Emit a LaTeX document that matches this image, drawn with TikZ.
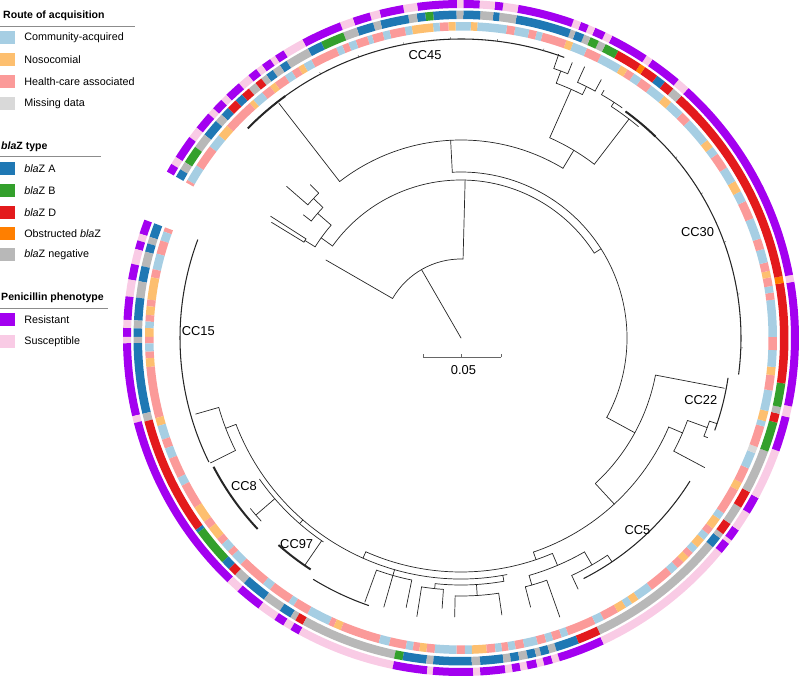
\documentclass[tikz,border=0pt]{standalone}
\usepackage{fontspec}
\setmainfont{Liberation Sans}
\usetikzlibrary{positioning}

% legend and ring colours
\definecolor{comm}{HTML}{A6CEE3}
\definecolor{noso}{HTML}{FDBF6F}
\definecolor{hca}{HTML}{FB9A99}
\definecolor{miss}{HTML}{D9D9D9}
\definecolor{blaA}{HTML}{1F78B4}
\definecolor{blaB}{HTML}{33A02C}
\definecolor{blaD}{HTML}{E31A1C}
\definecolor{blaO}{HTML}{FF7F00}
\definecolor{blaN}{HTML}{B8B8B8}
\definecolor{resist}{HTML}{A300F0}
\definecolor{suscep}{HTML}{F9CBE5}

% ring segment: start/end angle, radii, colour
\newcommand{\ringseg}[5]{%
  \fill[#5] (#1:#3) arc[start angle=#1, end angle=#2, radius=#3]
    -- (#2:#4) arc[start angle=#2, end angle=#1, radius=#4] -- cycle;}
% tree pieces: radial line and arc
\newcommand{\tline}[3]{\draw[branch] (#1:#2) -- (#1:#3);}
\newcommand{\tarc}[3]{\draw[branch] (#2:#1) arc[start angle=#2, end angle=#3, radius=#1];}
\newcommand{\tcomb}[4][comb]{\draw[#1] (#3:#2) arc[start angle=#3, end angle=#4, radius=#2];}

\begin{document}
\begin{tikzpicture}[
    x=0.3mm, y=0.3mm,
    branch/.style={line width=0.6pt, black!85, line cap=round},
    tip/.style={line width=0.4pt, black!70},
    comb/.style={line width=0.9pt, black!85},
    combthick/.style={line width=1.7pt, black!85},
    swatch/.style={minimum width=4.5mm, minimum height=3.9mm, inner sep=0pt, anchor=west},
    legtitle/.style={font=\fontsize{9}{10}\selectfont\bfseries, anchor=west, inner sep=0pt},
    legtext/.style={font=\fontsize{9.2}{10}\selectfont, anchor=west, inner sep=0pt},
    cclabel/.style={font=\fontsize{11}{12}\selectfont, inner sep=0pt}
]
\useasboundingbox (-461,-339) rectangle (339,338);

% ---- rings ----
% route of acquisition (inner)
\foreach \a/\b/\c in {159.5/160.3/hca,160.3/162/comm,162/164.5/hca,164.5/167.4/comm,167.4/168.9/hca,168.9/173/noso,173/174.2/hca,174.2/175.8/noso,175.8/177/hca,177/178.2/comm,178.2/179.8/noso,179.8/181/hca,181/182.5/comm,182.5/183.7/hca,183.7/185.3/noso,185.3/194.7/hca,194.7/196.2/noso,196.2/198.8/comm,198.8/200.5/hca,200.5/202.5/comm,202.5/206.3/hca,206.3/207.9/comm,207.9/212.5/hca,212.5/215.6/noso,215.6/217.1/hca,217.1/219.5/noso,219.5/220.8/hca,220.8/222.5/comm,222.5/223.6/hca,223.6/225.8/comm,225.8/231.2/hca,231.2/232.8/comm,232.8/236.9/hca,236.9/238/comm,238/240.9/hca,240.9/245.2/comm,245.2/246.2/hca,246.2/247.6/noso,247.6/254.9/hca,254.9/256.8/comm,256.8/259.9/hca,259.9/261.2/comm,261.2/262.4/hca,262.4/263.7/noso,263.7/265.2/hca,265.2/269.2/comm,269.2/270.7/hca,270.7/272/comm,272/274.7/noso,274.7/276.3/hca,276.3/277.5/comm,277.5/278.7/hca,278.7/280/comm,280/281.6/hca,281.6/284.1/comm,284.1/285.7/hca,285.7/287/comm,287/288.6/hca,288.6/289.9/comm,289.9/295.2/hca,295.2/296.9/comm,296.9/299.8/hca,299.8/301.5/noso,301.5/302.8/comm,302.8/304.2/noso,304.2/307.2/comm,307.2/311.8/hca,311.8/313.3/comm,313.3/314.8/hca,314.8/316.1/noso,316.1/317.2/hca,317.2/318.5/comm,318.5/320.3/noso,320.3/321.6/comm,321.6/322.9/hca,322.9/325/noso,325/326.3/comm,326.3/331.2/hca,331.2/332.7/noso,332.7/335.6/hca,335.6/338.6/comm,338.6/339.8/miss,339.8/343.7/hca,343.7/344.7/comm,344.7/346.6/noso,346.6/350.4/comm,350.4/353.2/hca,353.2/354.7/noso,354.7/357.8/comm,357.8/360.2/hca,360.2/367/comm,367/368.3/hca,368.3/369.5/comm,369.5/371.1/hca,371.1/372.3/noso,372.3/373.9/hca,373.9/376.4/comm,376.4/378.4/hca,378.4/382.3/comm,382.3/385.7/hca,385.7/387.7/comm,387.7/389.8/noso,389.8/392.7/comm,392.7/395.7/hca,395.7/397.2/comm,397.2/398.8/noso,398.8/403.6/comm,403.6/405.5/hca,405.5/408.3/comm,408.3/410/noso,410/413/comm,413/415.2/hca,415.2/416.8/comm,416.8/418.2/hca,418.2/419.6/noso,419.6/423.7/comm,423.7/426.5/hca,426.5/429.2/comm,429.2/430.5/noso,430.5/435/hca,435/436.1/comm,436.1/437.5/hca,437.5/440.1/comm,440.1/441.6/hca,441.6/447/comm,447/448.2/noso,448.2/451/comm,451/452.3/noso,452.3/453.9/hca,453.9/455.1/comm,455.1/459/noso,459/460.3/comm,460.3/463.1/hca,463.1/464.4/comm,464.4/466.4/hca,466.4/467.3/comm,467.3/469.5/hca,469.5/470.9/comm,470.9/472.1/hca,472.1/473.3/comm,473.3/478.3/hca,478.3/479.9/comm,479.9/481/noso,481/482.4/hca,482.4/483.9/comm,483.9/486.1/hca,486.1/487.2/noso,487.2/489/hca,489/491.1/comm,491.1/492/noso,492/497.8/hca,497.8/500.1/noso,500.1/502.7/comm,502.7/506.9/hca,506.9/510/comm,510/510.5/hca}
  {\ringseg{\a}{\b}{307.5}{316}{\c}}

% blaZ type (middle)
\foreach \a/\b/\c in {159.5/162/blaA,162/163.2/blaN,163.2/164.7/blaA,164.7/167.3/blaN,167.3/170/blaA,170/172.9/blaN,172.9/176.9/blaA,176.9/178.3/blaN,178.3/179.8/blaA,179.8/180.9/blaN,180.9/193.4/blaA,193.4/194.8/blaN,194.8/215.9/blaD,215.9/216.5/blaA,216.5/223.2/blaB,223.2/224.9/blaA,224.9/226.4/blaD,226.4/228.5/blaN,228.5/233/blaA,233/236.4/blaN,236.4/238.6/blaA,238.6/239.6/blaN,239.6/241.1/blaD,241.1/258.2/blaN,258.2/259.7/blaB,259.7/263.9/blaA,263.9/265.1/blaN,265.1/271.9/blaA,271.9/273.4/blaN,273.4/277.5/blaA,277.5/278.8/blaN,278.8/280.3/blaA,280.3/281.8/blaN,281.8/283.3/blaA,283.3/284.2/blaN,284.2/285.7/blaA,285.7/287/blaN,287/291.1/blaA,291.1/295.2/blaD,295.2/320.3/blaN,320.3/322.3/blaA,322.3/323.2/blaN,323.2/325.4/blaD,325.4/328.8/blaN,328.8/331.9/blaD,331.9/339.7/blaN,339.7/345/blaB,345/346.6/blaD,346.6/347.8/blaN,347.8/352/blaB,352/369.7/blaD,369.7/370.9/blaO,370.9/407.7/blaD,407.7/409.6/blaN,409.6/411.5/blaD,411.5/413.2/blaA,413.2/415.8/blaD,415.8/416.8/blaO,416.8/421.3/blaD,421.3/423.8/blaB,423.8/425.1/blaN,425.1/426.7/blaB,426.7/427.9/blaN,427.9/429.5/blaA,429.5/430.4/blaN,430.4/440.2/blaA,440.2/443.2/blaN,443.2/444.3/blaA,444.3/446.6/blaN,446.6/449.6/blaA,449.6/450.8/blaN,450.8/454.9/blaA,454.9/456.3/blaB,456.3/457.8/blaA,457.8/459.3/blaN,459.3/464.3/blaA,464.3/465.6/blaN,465.6/468.6/blaA,468.6/471.1/blaN,471.1/475.3/blaB,475.3/477.9/blaA,477.9/482.2/blaN,482.2/483.6/blaA,483.6/485.1/blaN,485.1/486.5/blaA,486.5/487.6/blaN,487.6/488.9/blaD,488.9/490.4/blaN,490.4/492/blaD,492/493.5/blaA,493.5/495.4/blaD,495.4/497/blaA,497/498.5/blaN,498.5/501.6/blaA,501.6/504.3/blaN,504.3/507.5/blaB,507.5/509/blaN,509/510.5/blaA}
  {\ringseg{\a}{\b}{319}{327.5}{\c}}

% penicillin phenotype (outer)
\foreach \a/\b/\c in {159.5/162/resist,162/163.2/suscep,163.2/164.7/resist,164.7/167.3/suscep,167.3/170/resist,170/172.9/suscep,172.9/176.9/resist,176.9/178.3/suscep,178.3/179.8/resist,179.8/180.9/suscep,180.9/193.4/resist,193.4/194.6/suscep,194.6/226.3/resist,226.3/228.6/suscep,228.6/233.2/resist,233.2/236.5/suscep,236.5/238.3/resist,238.3/239.7/suscep,239.7/241.3/resist,241.3/258.3/suscep,258.3/264.2/resist,264.2/265.2/suscep,265.2/272.1/resist,272.1/273.3/suscep,273.3/277.6/resist,277.6/278.8/suscep,278.8/280.2/resist,280.2/281.4/suscep,281.4/283.1/resist,283.1/284.3/suscep,284.3/285.8/resist,285.8/287/suscep,287/295/resist,295/320.5/suscep,320.5/322.5/resist,322.5/323.2/suscep,323.2/325.3/resist,325.3/328.7/suscep,328.7/331.7/resist,331.7/340.4/suscep,340.4/346.4/resist,346.4/348.3/suscep,348.3/369.6/resist,369.6/370.8/suscep,370.8/407.7/resist,407.7/409.9/suscep,409.9/415.5/resist,415.5/416.7/suscep,416.7/423.4/resist,423.4/424.7/suscep,424.7/426.6/resist,426.6/427.8/suscep,427.8/429.2/resist,429.2/430.5/suscep,430.5/440.2/resist,440.2/442.8/suscep,442.8/444.2/resist,444.2/446.8/suscep,446.8/449.6/resist,449.6/450.7/suscep,450.7/457.5/resist,457.5/459.9/suscep,459.9/464/resist,464/465.7/suscep,465.7/468.7/resist,468.7/471/suscep,471/478/resist,478/481.7/suscep,481.7/483.4/resist,483.4/484.4/suscep,484.4/486.1/resist,486.1/487.3/suscep,487.3/489/resist,489/491.1/suscep,491.1/494/resist,494/495.2/suscep,495.2/497.2/resist,497.2/498.4/suscep,498.4/501.5/resist,501.5/503.5/suscep,503.5/507.6/resist,507.6/509/suscep,509/510.5/resist}
  {\ringseg{\a}{\b}{330}{338}{\c}}

% ---- tree ----
% root and backbone
\tline{120}{0}{79}
\tarc{79}{88.5}{150}
\tline{150}{79}{156}
\tline{88.5}{79}{158}
\tarc{158}{32.5}{144.4}
% small clade, top left
\tline{144.4}{158}{172}
\tarc{172}{139}{148}
\tline{148}{172}{184}
\tarc{184}{147.4}{148.6}
\tline{147.4}{184}{226}
\tline{148.6}{184}{222}
\tline{139}{172}{190}
\tarc{190}{136.6}{142}
\tline{142}{190}{200}
\tline{136.6}{190}{203}
\tarc{203}{134.5}{139}
\tline{134.5}{203}{215}
\tline{139}{203}{231}
% CC45 and CC30
\tline{32.5}{158}{166}
\tarc{166}{-28.6}{93}
\tline{93}{166}{198}
\tarc{198}{59}{127.8}
\tline{127.8}{198}{297}
\tcomb{299}{69.8}{135}
\tcomb[combthick]{299}{126}{135.5}
\foreach \ang in {74,83,92,101,110,118} {\draw[tip] (\ang:298.5) -- (\ang:301);}
\tline{59}{198}{219}
\tarc{219}{52.5}{66.1}
\tline{66.1}{219}{272}
\tarc{272}{63.5}{69.5}
\tline{69.5}{272}{285}
\tarc{285}{68}{71}
\tline{68}{285}{297}
\tline{71}{285}{300}
\tline{63.5}{272}{281}
\tarc{281}{61.5}{65.5}
\tline{61.5}{281}{294}
\tline{65.5}{281}{298}
\tline{52.5}{219}{276}
\tarc{276}{50}{57}
\tline{57}{276}{281}
\tarc{281}{55}{60}
\tline{60}{281}{286}
\tcomb{280}{-7.5}{54}
\tcomb[combthick]{280}{46}{54}
\foreach \ang in {-2,9,20,31,40} {\draw[tip] (\ang:279.5) -- (\ang:282);}
% CC22 and neighbours
\tline{-28.6}{166}{198}
\tarc{198}{-47.3}{-10.8}
\tline{-10.8}{198}{268}
\tcomb{270}{-20}{-8.5}
\tline{-47.3}{198}{226}
\tarc{226}{-71.3}{-23.2}
\tline{-23.2}{226}{241}
\tarc{241}{-28}{-20}
\tline{-20}{241}{262}
\tarc{262}{-22}{-18.5}
\tline{-22}{262}{266}
\tline{-18.5}{262}{270}
\tline{-28}{241}{276}
% CC5 and bottom clades
\tline{288.7}{226}{234}
\tarc{234}{246}{293}
\tline{293}{234}{247}
\tarc{247}{286}{300}
\tline{286}{247}{257}
\tarc{257}{284.5}{289.5}
\tline{284.5}{257}{278}
\tline{289.5}{257}{296}
\tline{300}{247}{262}
\tarc{262}{295}{304}
\tline{295}{262}{277}
\tline{304}{262}{270}
\tcomb{270}{297}{328}
\tline{246}{234}{241}
\tarc{241}{201}{281}
\tline{280}{241}{247}
\tarc{247}{264}{280}
\tline{273.6}{247}{258}
\tarc{258}{268.7}{278.4}
\tline{268.7}{258}{279}
\tline{278.4}{258}{280}
\tline{264}{247}{252}
\tarc{252}{261}{266}
\tline{261}{252}{282}
\tline{266}{252}{271}
\tline{254}{241}{247}
\tarc{247}{250}{258.5}
\tline{250}{247}{281}
\tline{254}{247}{280}
\tline{258.5}{247}{275}
\tcomb{283}{238.5}{251}
% CC97, CC8, CC15
\tline{229}{241}{246}
\tarc{246}{215}{236}
\tline{235.5}{246}{275}
\tcomb[combthick]{276}{228.6}{237}
\tline{220.8}{246}{271}
\tarc{271}{219}{222.5}
\tcomb[combthick]{279}{207.5}{223.2}
\tline{201}{241}{252}
\tarc{252}{196}{206.5}
\tline{196}{252}{276}
\tline{206.5}{252}{280}
\tcomb{281}{159.5}{206.2}

% ---- scale bar ----
\draw[black!60, line width=0.6pt] (-38,-19.3) -- (40,-19.3);
\foreach \sx in {-38,0.7,40} \draw[black!60, line width=0.6pt] (\sx,-19.3) -- (\sx,-16);
\node[cclabel] (scalelab) at (2.5,-32) {0.05};

% ---- clade labels ----
\node[cclabel] (cc45) at (-36,283) {CC45};
\node[cclabel] (cc30) at (236.5,106.3) {CC30};
\node[cclabel] (cc22) at (239.8,-62) {CC22};
\node[cclabel] (cc5) at (176.5,-192) {CC5};
\node[cclabel] (cc15) at (-262.7,7) {CC15};
\node[cclabel] (cc8) at (-217,-148) {CC8};
\node[cclabel] (cc97) at (-164.3,-206) {CC97};

% ---- legend ----
\node[legtitle] (routehead) at (-458,322) {Route of acquisition};
\draw[black!45, line width=0.5pt] (-461,312) -- (-326,312);
\foreach \yy/\col/\txt [count=\i] in {300/comm/Community-acquired, 278/noso/Nosocomial, 256.3/hca/Health-care associated, 234.7/miss/Missing data}{
  \node[swatch, fill=\col] (route\i) at (-461,\yy) {};
  \node[legtext, right=2.6mm of route\i] {\txt};
}
\node[legtitle] (blazhead) at (-460,191.3) {\textit{bla}Z type};
\draw[black!45, line width=0.5pt] (-461,182) -- (-360,182);
\foreach \yy/\col/\txt [count=\i] in {169/blaA/\textit{bla}Z A, 147.2/blaB/\textit{bla}Z B, 125.5/blaD/\textit{bla}Z D, 104.7/blaO/Obstructed \textit{bla}Z, 83/blaN/\textit{bla}Z negative}{
  \node[swatch, fill=\col] (blaz\i) at (-461,\yy) {};
  \node[legtext, right=2.6mm of blaz\i] {\txt};
}
\node[legtitle] (penhead) at (-460,40) {Penicillin phenotype};
\draw[black!45, line width=0.5pt] (-461,29.7) -- (-353,29.7);
\foreach \yy/\col/\txt [count=\i] in {18/resist/Resistant, -3.7/suscep/Susceptible}{
  \node[swatch, fill=\col] (pen\i) at (-461,\yy) {};
  \node[legtext, right=2.6mm of pen\i] {\txt};
}
\end{tikzpicture}
\end{document}
